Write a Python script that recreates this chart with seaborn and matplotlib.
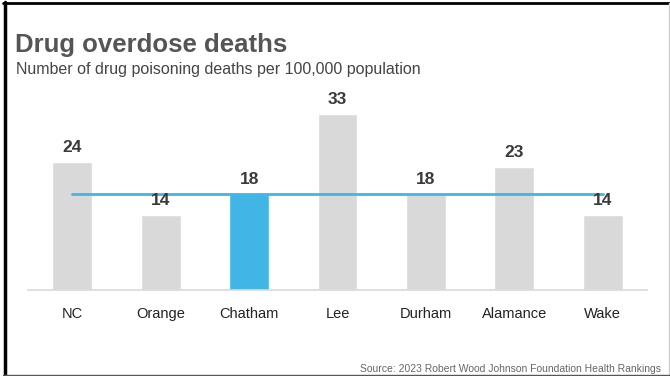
import matplotlib
matplotlib.use("Agg")
import matplotlib.pyplot as plt
import seaborn as sns
import pandas as pd
from matplotlib.lines import Line2D

# data
counties = ['NC', 'Orange', 'Chatham', 'Lee', 'Durham', 'Alamance', 'Wake']
deaths = [24, 14, 18, 33, 18, 23, 14]
highlight = 'Chatham'
ref_value = 18

gris_barra = '#D9D9D9'
azul = '#41B6E6'
texto_escuro = '#3A3A3A'

sns.set_theme(style="white")
plt.rcParams['font.family'] = ['Liberation Sans', 'DejaVu Sans']

df = pd.DataFrame({'county': counties, 'deaths': deaths})
cores = [azul if c == highlight else gris_barra for c in counties]

fig = plt.figure(figsize=(6.7, 3.76), dpi=100)
ax = fig.add_axes([28 / 670, 86 / 376, 619 / 670, 204 / 376])

sns.barplot(data=df, x='county', y='deaths', hue='county', palette=cores,
            legend=False, width=0.45, ax=ax, saturation=1)

# linha de referencia (valor de Chatham)
ax.plot([0, len(counties) - 1], [ref_value, ref_value], color=azul, linewidth=2, zorder=3)

for i, v in enumerate(deaths):
    ax.text(i, v + 1.3, f'{v}', ha='center', va='bottom', fontsize=12.5,
            fontweight='bold', color=texto_escuro)

ax.set_xlim(-0.5, len(counties) - 0.5)
ax.set_ylim(0, 204 / 5.33)
ax.set_xlabel('')
ax.set_ylabel('')
ax.set_yticks([])
ax.tick_params(axis='x', length=0, pad=12, labelsize=10.5, labelcolor='#222222')
for s in ['top', 'right', 'left']:
    ax.spines[s].set_visible(False)
ax.spines['bottom'].set_color(gris_barra)
ax.spines['bottom'].set_linewidth(1.2)

fig.text(15 / 670, 1 - 52 / 376, 'Drug overdose deaths', fontsize=18.5, fontweight='bold',
         color='#555555', ha='left', va='baseline')
fig.text(16 / 670, 1 - 74 / 376, 'Number of drug poisoning deaths per 100,000 population',
         fontsize=11.5, color='#444444', ha='left', va='baseline')
fig.text(661 / 670, 1 - 372 / 376, 'Source: 2023 Robert Wood Johnson Foundation Health Rankings',
         fontsize=7.5, color='#666666', ha='right', va='baseline')

# moldura
fig.add_artist(Line2D([4.5 / 670, 4.5 / 670], [0, 1 - 2 / 376], color='black', linewidth=2.5))
fig.add_artist(Line2D([3 / 670, 1], [1 - 3 / 376, 1 - 3 / 376], color='black', linewidth=2))
fig.add_artist(Line2D([668.5 / 670, 668.5 / 670], [0, 1 - 3 / 376], color='#CCCCCC', linewidth=1))
fig.add_artist(Line2D([3 / 670, 1], [1.5 / 376, 1.5 / 376], color='#555555', linewidth=1))

fig.savefig('out.png', dpi=100)
